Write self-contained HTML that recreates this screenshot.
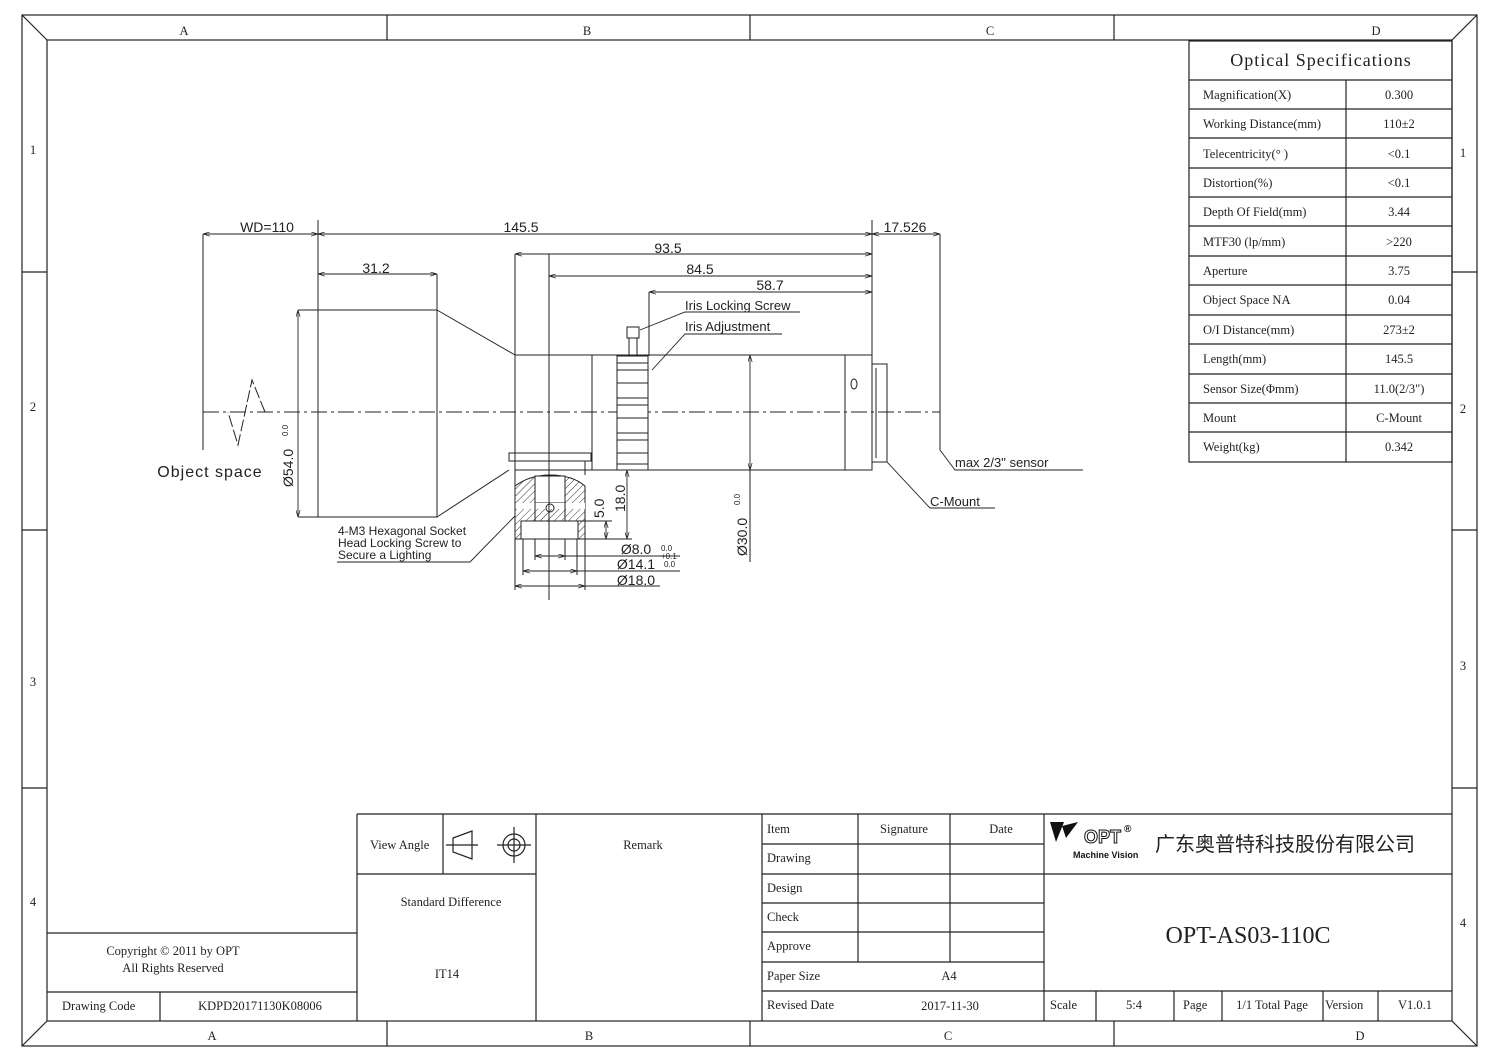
<!DOCTYPE html><html><head><meta charset="utf-8"><style>
body{margin:0;background:#fff}
svg{display:block}
.s{font-family:"Liberation Serif","Noto Serif CJK SC",serif;font-size:12.5px;fill:#222}
.d{font-family:"Liberation Sans",sans-serif;font-size:14px;fill:#222}
</style></head><body>
<svg width="1500" height="1061" viewBox="0 0 1500 1061" xmlns="http://www.w3.org/2000/svg">
<defs>
<pattern id="h" width="5" height="5" patternUnits="userSpaceOnUse" patternTransform="rotate(45)"><line x1="0" y1="0" x2="0" y2="5" stroke="#333" stroke-width="1"/></pattern>
<marker id="a" viewBox="0 0 10 6" refX="10" refY="3" markerWidth="8" markerHeight="5" orient="auto-start-reverse"><path d="M0,0L10,3L0,6" fill="none" stroke="#222"/></marker>
</defs>
<g fill="none" stroke="#222" stroke-width="1.2">
<rect x="22" y="15" width="1455" height="1031"/>
<rect x="47" y="40" width="1405" height="981"/>
<path d="M22 15L47 40M1477 15L1452 40M22 1046L47 1021M1477 1046L1452 1021"/>
<path d="M387 15V40M750 15V40M1114 15V40M387 1021V1046M750 1021V1046M1114 1021V1046"/>
<path d="M22 272H47M22 530H47M22 788H47M1452 272H1477M1452 530H1477M1452 788H1477"/>
</g>
<g class="s" font-size="14" text-anchor="middle">
<text x="184" y="35">A</text><text x="587" y="35">B</text><text x="990" y="35">C</text><text x="1376" y="35">D</text>
<text x="212" y="1040">A</text><text x="589" y="1040">B</text><text x="948" y="1040">C</text><text x="1360" y="1040">D</text>
<text x="33" y="154">1</text><text x="33" y="411">2</text><text x="33" y="686">3</text><text x="33" y="906">4</text>
<text x="1463" y="157">1</text><text x="1463" y="413">2</text><text x="1463" y="670">3</text><text x="1463" y="927">4</text>
</g>
<g fill="none" stroke="#222" stroke-width="1.2">
<rect x="1189" y="41" width="263" height="421"/>
<path d="M1189 80H1452M1189 109H1452M1189 138H1452M1189 168H1452M1189 197H1452M1189 226H1452M1189 256H1452M1189 285H1452M1189 315H1452M1189 344H1452M1189 374H1452M1189 403H1452M1189 432H1452M1346 80V462"/>
</g>
<g class="s">
<text x="1321" y="66" style="font-size:18px" text-anchor="middle" letter-spacing="1">Optical Specifications</text>
<text x="1203" y="99">Magnification(X)</text><text x="1203" y="128">Working Distance(mm)</text><text x="1203" y="158">Telecentricity(° )</text><text x="1203" y="187">Distortion(%)</text><text x="1203" y="216">Depth Of Field(mm)</text><text x="1203" y="246">MTF30 (lp/mm)</text><text x="1203" y="275">Aperture</text><text x="1203" y="304">Object Space NA</text><text x="1203" y="334">O/I Distance(mm)</text><text x="1203" y="363">Length(mm)</text><text x="1203" y="393">Sensor Size(Φmm)</text><text x="1203" y="422">Mount</text><text x="1203" y="451">Weight(kg)</text>
</g>
<g class="s" text-anchor="middle">
<text x="1399" y="99">0.300</text><text x="1399" y="128">110±2</text><text x="1399" y="158">&lt;0.1</text><text x="1399" y="187">&lt;0.1</text><text x="1399" y="216">3.44</text><text x="1399" y="246">&gt;220</text><text x="1399" y="275">3.75</text><text x="1399" y="304">0.04</text><text x="1399" y="334">273±2</text><text x="1399" y="363">145.5</text><text x="1399" y="393">11.0(2/3")</text><text x="1399" y="422">C-Mount</text><text x="1399" y="451">0.342</text>
</g>
<g fill="none" stroke="#222" stroke-width="1.2">
<path d="M357 814H1452M357 814V1021M357 874H536M47 933H357M47 992H357M160 992V1021M536 814V1021M443 814V874M762 814V1021M858 814V962M950 814V962M1044 814V1021M762 844H1044M762 874H1452M762 903H1044M762 932H1044M762 962H1044M762 991H1452M1096 991V1021M1174 991V1021M1222 991V1021M1323 991V1021M1378 991V1021"/>
<path d="M446 845H478M453 838L472 831V859L453 852Z M497 845H531M514 827V863"/>
<circle cx="514" cy="845" r="11"/><circle cx="514" cy="845" r="6"/>
</g>
<g class="s">
<text x="370" y="849">View Angle</text><text x="643" y="849" text-anchor="middle">Remark</text>
<text x="451" y="906" text-anchor="middle">Standard Difference</text><text x="447" y="978" text-anchor="middle">IT14</text>
<text x="173" y="955" text-anchor="middle">Copyright © 2011 by OPT</text><text x="173" y="972" text-anchor="middle">All Rights Reserved</text>
<text x="62" y="1010">Drawing Code</text><text x="260" y="1010" text-anchor="middle">KDPD20171130K08006</text>
<text x="767" y="833">Item</text><text x="904" y="833" text-anchor="middle">Signature</text><text x="1001" y="833" text-anchor="middle">Date</text>
<text x="767" y="862">Drawing</text><text x="767" y="892">Design</text><text x="767" y="921">Check</text><text x="767" y="950">Approve</text><text x="767" y="980">Paper Size</text><text x="767" y="1009">Revised Date</text>
<text x="949" y="980" text-anchor="middle">A4</text><text x="950" y="1010" text-anchor="middle">2017-11-30</text>
<text x="1050" y="1009">Scale</text><text x="1134" y="1009" text-anchor="middle">5:4</text><text x="1183" y="1009">Page</text><text x="1272" y="1009" text-anchor="middle">1/1 Total Page</text><text x="1325" y="1009">Version</text><text x="1415" y="1009" text-anchor="middle">V1.0.1</text>
<text x="1248" y="943" style="font-size:24px" text-anchor="middle">OPT-AS03-110C</text>
</g>
<path d="M1050 822L1064 822L1056 842Z M1062 826L1078 822L1066 838Z" fill="#111"/>
<text x="1084" y="843" font-family="Liberation Sans,sans-serif" font-size="18" font-weight="bold" fill="#fff" stroke="#111" stroke-width="1">OPT</text>
<text x="1124" y="832" font-family="Liberation Sans,sans-serif" font-size="10" font-weight="bold" fill="#111">®</text>
<text x="1073" y="858" font-family="Liberation Sans,sans-serif" font-size="9" font-weight="bold" fill="#111">Machine Vision</text>
<text x="1155" y="851" font-family="'Noto Sans CJK SC',sans-serif" font-size="20" fill="#222">广东奥普特科技股份有限公司</text>
<g fill="none" stroke="#222" stroke-width="1">
<path d="M203 412H940" stroke-dasharray="16 4 3 4"/>
<path d="M203 234V450M940 234V450" />
<path d="M265 412L252 380L238 445L228 412" stroke-dasharray="12 3"/>
<rect x="318" y="310" width="119" height="207"/>
<path d="M437 310L515 355M437 517L509 470"/>
<rect x="515" y="355" width="357" height="115"/>
<path d="M592 355V455M592 455V470M845 355V470"/>
<rect x="617" y="356" width="31" height="114" fill="#fff"/>
<path d="M617 363H648M617 370H648M617 383H648M617 398H648M617 405H648M617 418H648M617 433H648M617 440H648M617 453H648M617 464H648"/>
<rect x="627" y="327" width="12" height="11"/><path d="M629 338V355M637 338V355"/>
<rect x="872" y="364" width="15" height="98"/><path d="M876 368V458"/>
<ellipse cx="854" cy="384" rx="3" ry="5"/>
<rect x="509" y="453" width="82" height="8"/>
<path d="M515 461V475M585 461V475"/>
<path d="M515 539V486Q530 475 550 475Q572 475 585 486V539Z" fill="url(#h)"/>
<rect x="535" y="476" width="30" height="27" fill="#fff"/>
<rect x="521" y="521" width="57" height="18" fill="#fff"/>
<rect x="515" y="503" width="70" height="6" fill="#fff" stroke="none"/>
<path d="M535 503V521M565 503V521"/>
<circle cx="550" cy="508" r="4"/>
<path d="M549 254V600M515 254V590M649 292V356M872 220V364"/>
<path d="M318 220V310M437 274V310"/>
<path d="M515 539V590M585 539V590M523 539V575M577 539V575M535 539V560M565 539V560"/>
<path d="M585 539H632M578 521H612M750 470V562"/>
</g>
<g fill="none" stroke="#222" stroke-width="0.9" marker-start="url(#a)" marker-end="url(#a)">
<path d="M203 234H318"/><path d="M318 234H872"/><path d="M872 234H940"/>
<path d="M515 254H872"/><path d="M549 276H872"/><path d="M649 292H872"/><path d="M318 274H437"/>
<path d="M298 310V517"/><path d="M750 355V470"/>
<path d="M627 470V539"/><path d="M606 521V539"/>
<path d="M535 556H565"/><path d="M523 571H577"/><path d="M515 586H585"/>
</g>
<g fill="none" stroke="#222" stroke-width="0.9">
<path d="M298 310H318M298 517H318"/>
<path d="M565 556H680M577 571H680M585 586H660"/>
<path d="M640 330L685 312H800M652 370L685 334H782"/>
<path d="M887 462L930 508H995M940 450L955 470H1083"/>
<path d="M515 516L470 562H337"/>
</g>
<g class="d" text-anchor="middle">
<text x="267" y="232">WD=110</text><text x="521" y="232">145.5</text><text x="905" y="232">17.526</text>
<text x="668" y="253">93.5</text><text x="700" y="274">84.5</text><text x="770" y="290">58.7</text><text x="376" y="273">31.2</text>
<text x="210" y="477" style="font-size:16px" letter-spacing="1">Object space</text>
<text x="636" y="554">Ø8.0</text><text x="636" y="569">Ø14.1</text><text x="636" y="585">Ø18.0</text>
</g>
<g class="d" style="font-size:13px">
<text x="685" y="310">Iris Locking Screw</text><text x="685" y="331">Iris Adjustment</text>
<text x="955" y="467">max 2/3" sensor</text><text x="930" y="506">C-Mount</text>
</g>
<g class="d" style="font-size:12px"><text x="338" y="535">4-M3 Hexagonal Socket</text><text x="338" y="547">Head Locking Screw to</text><text x="338" y="559">Secure a Lighting</text></g>
<g class="d" style="font-size:8px"><text x="661" y="551">0.0</text><text x="661" y="559">+0.1</text><text x="664" y="567">0.0</text></g>
<g class="d"><text transform="translate(293 487) rotate(-90)">Ø54.0</text><text transform="translate(288 436) rotate(-90)" style="font-size:8px">0.0</text>
<text transform="translate(747 556) rotate(-90)">Ø30.0</text><text transform="translate(740 505) rotate(-90)" style="font-size:8px">0.0</text>
<text transform="translate(604 518) rotate(-90)">5.0</text><text transform="translate(625 512) rotate(-90)">18.0</text></g>
</svg>
</body></html>
